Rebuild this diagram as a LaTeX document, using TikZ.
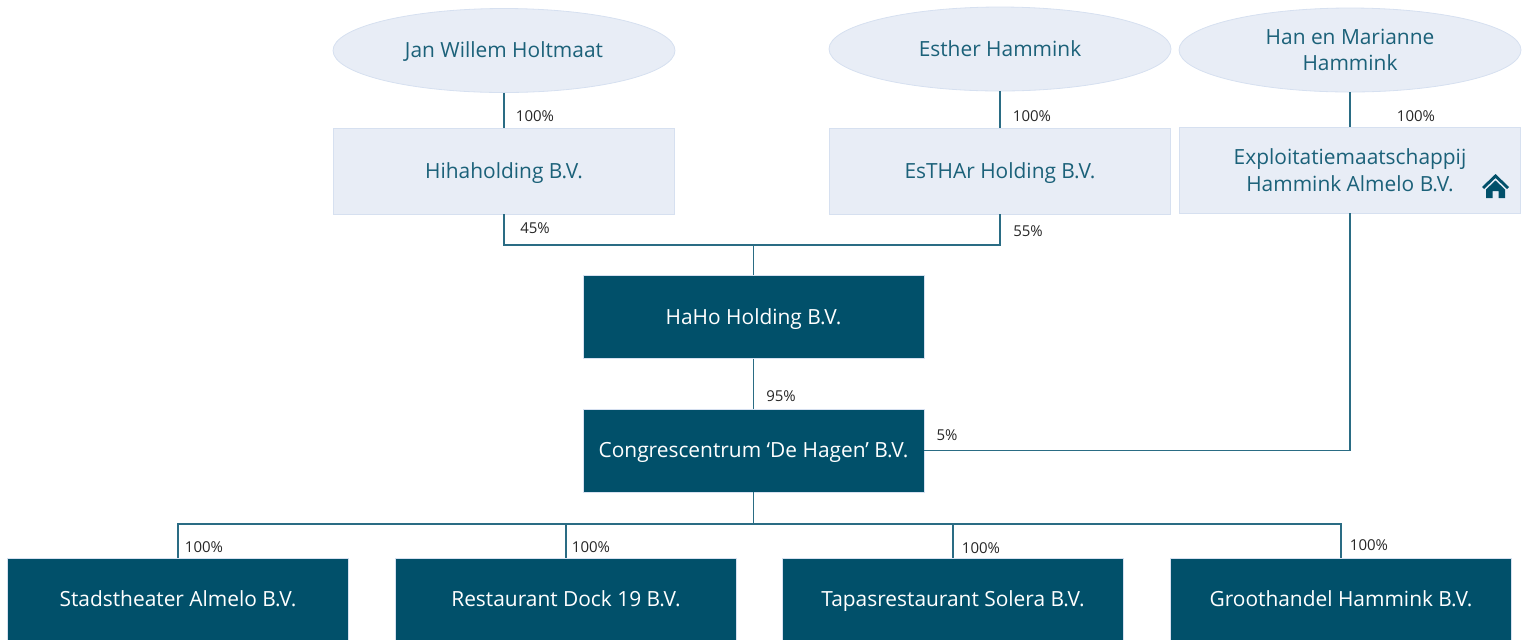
\documentclass[tikz,border=0pt]{standalone}
\usepackage{fontspec}
\setmainfont{Open Sans}
\usetikzlibrary{shapes.geometric}
\definecolor{darkteal}{HTML}{01506A}
\definecolor{paleblue}{HTML}{E8EDF6}
\definecolor{paleedge}{HTML}{D6E0F0}
\definecolor{linkteal}{HTML}{2A6C84}
\begin{document}
\begin{tikzpicture}[x=0.5pt, y=-0.5pt,
    person/.style={ellipse, draw=paleedge, fill=paleblue, text=darkteal!90, font=\fontsize{10.45}{13.2}\selectfont, align=center, inner sep=0pt, minimum width=171pt, minimum height=42pt},
    holder/.style={rectangle, draw=paleedge, fill=paleblue, text=darkteal!90, font=\fontsize{10.45}{13.2}\selectfont, align=center, inner sep=0pt, minimum width=170.5pt, minimum height=43pt},
    company/.style={rectangle, draw=paleedge, fill=darkteal, text=white, font=\fontsize{10.45}{13.2}\selectfont, inner sep=0pt, minimum width=170.5pt, minimum height=41.5pt},
    oneline/.style={text height=9.5pt, text depth=2.5pt},
    pct/.style={font=\fontsize{7.5}{9}\selectfont, text=black!85, inner sep=0pt},
    link/.style={draw=linkteal, line width=0.6pt}]
    \useasboundingbox (0,0) rectangle (1530,639);
    \clip (0,0) rectangle (1530,639);

    % Owners
    \node[person, oneline] (holtmaat) at (504,50.5) {Jan Willem Holtmaat};
    \node[person, oneline] (esther) at (1000,49) {Esther Hammink};
    \node[person] (han) at (1350,50) {Han en Marianne\\Hammink};

    % Holdings
    \node[holder, oneline] (hiha) at (504,171) {Hihaholding B.V.};
    \node[holder, oneline] (esthar) at (1000,171) {EsTHAr Holding B.V.};
    \node[holder] (exploit) at (1350,170) {Exploitatiemaatschappij\\Hammink Almelo B.V.};
    \node[company, oneline] (haho) at (753.5,317) {HaHo Holding B.V.};
    \node[company, oneline] (congres) at (753.5,450.5) {Congrescentrum ‘De Hagen’ B.V.};

    % Bottom row, cut off by the page edge
    \node[company, oneline] (theater) at (178,599.5) {Stadstheater Almelo B.V.};
    \node[company, oneline] (dock) at (566,599.5) {Restaurant Dock 19 B.V.};
    \node[company, oneline] (solera) at (953,599.5) {Tapasrestaurant Solera B.V.};
    \node[company, oneline] (groothandel) at (1341,599.5) {Groothandel Hammink B.V.};

    \coordinate (topbar) at (753.5,245);
    \coordinate (lowbar) at (753.5,524);

    \draw[link] (holtmaat) -- (hiha);
    \draw[link] (esther) -- (esthar);
    \draw[link] (han) -- (exploit);
    \draw[link] (hiha.south) |- (topbar);
    \draw[link] (esthar.south) |- (topbar);
    \draw[link] (topbar) -- (haho.north);
    \draw[link] (haho) -- (congres);
    \draw[link] (congres.east) -| (exploit.south);
    \draw[link] (congres.south) -- (lowbar);
    \draw[link] (theater.north) |- (lowbar);
    \draw[link] (dock.north) |- (lowbar);
    \draw[link] (solera.north) |- (lowbar);
    \draw[link] (groothandel.north) |- (lowbar);

    % Percentages
    \node[pct] (p1) at (535,116) {100\%};
    \node[pct] (p2) at (1032,116) {100\%};
    \node[pct] (p3) at (1416,116) {100\%};
    \node[pct] (p4) at (535,228) {45\%};
    \node[pct] (p5) at (1028,231) {55\%};
    \node[pct] (p6) at (781,396) {95\%};
    \node[pct] (p7) at (947,435) {5\%};
    \node[pct] (p8) at (204,547) {100\%};
    \node[pct] (p9) at (591,547) {100\%};
    \node[pct] (p10) at (981,548) {100\%};
    \node[pct] (p11) at (1369,545) {100\%};

    % House icon
    \fill[darkteal] (1495.5,174) -- (1509,187) -- (1507,189) -- (1495.5,178) -- (1484,189) -- (1482,187) -- cycle;
    \fill[darkteal] (1495.5,180.5) -- (1505,189.5) -- (1505,198) -- (1498.5,198) -- (1498.5,191) -- (1492.5,191) -- (1492.5,198) -- (1486,198) -- (1486,189.5) -- cycle;
\end{tikzpicture}
\end{document}
